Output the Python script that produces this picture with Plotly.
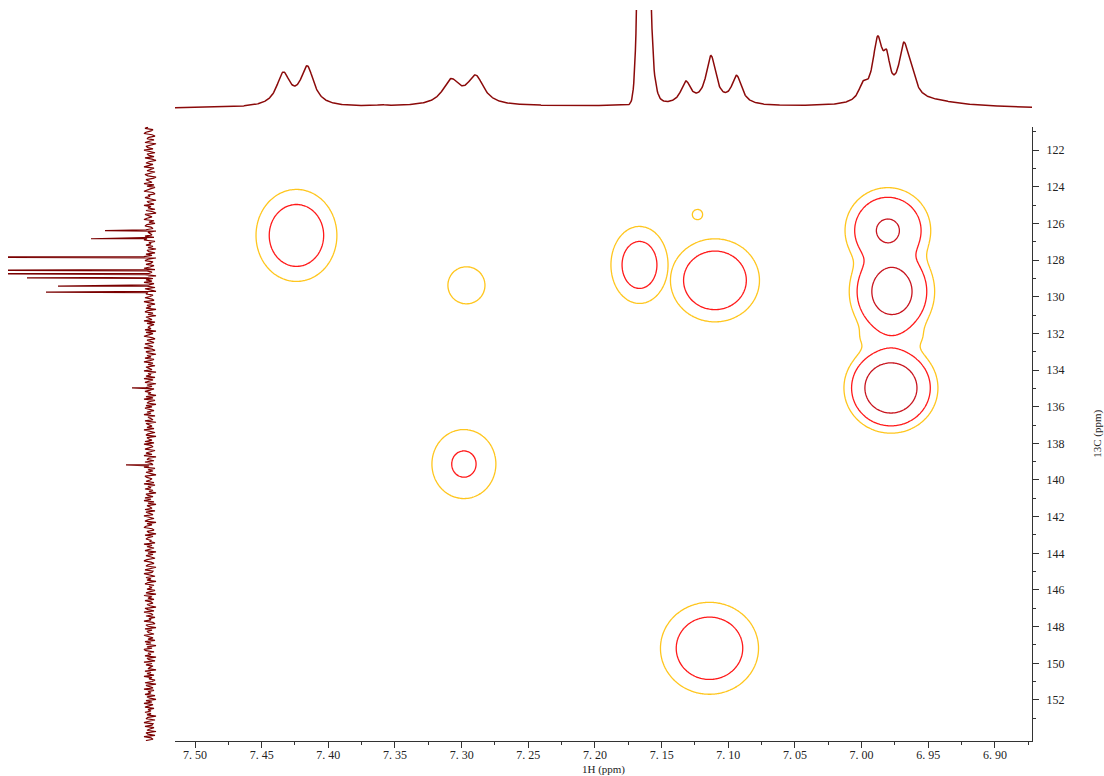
import numpy as np
import plotly.graph_objects as go

# ---------------- 1H projection (top trace) ----------------
H1_LOR_PPM = [7.4338, 7.4158, 7.3600, 7.3080, 7.2895, 7.1550, 7.1318, 7.1130, 7.0937,
              6.9990, 6.9880, 6.9812, 6.9683, 6.9623]
H1_LOR_HEIGHT = [31.7, 38.3, 1.2, 24, 28, 15, 22, 48, 28, 14, 60, 30, 52, 17]
H1_LOR_HWHM = [0.006, 0.006, 0.003, 0.0075, 0.0075, 0.003, 0.0045, 0.0045, 0.0045,
               0.00375, 0.0045, 0.003, 0.0045, 0.00375]
H1_GAUSS_PPM = [7.1633]
H1_GAUSS_HEIGHT = [483]
H1_GAUSS_SIGMA = [0.00305]
H1_BROAD_PPM = [7.20, 6.949]
H1_BROAD_HEIGHT = [3.0, 5.5]
H1_BROAD_HWHM = [0.25, 0.03]
H1_OFFSET = -1.0

# ---------------- 13C projection (left trace) ----------------
C13_PEAK_PPM = [126.40, 126.84, 127.84, 128.56, 128.75, 128.98, 129.43, 129.75, 134.97, 139.17]
C13_PEAK_HEIGHT = [45, 59, 200, 200, 200, 123, 92, 104, 18, 24]
C13_START = 120.75
C13_STEP = 0.07
C13_NOISE = [
    2, 5, -3, -1, 4, 6, -2, -5, 1, 3, -4, 0, 5, -6, -2, 4, 2, -3, 6, -1, -5, 3, 1, -4,
    5, -2, -6, 1, 4, -3, 2, 6, -4, -1, 3, -5, 0, 5, 2, -6, -3, 4, 1, -2, 6, -4, 3, -5,
    -1, 4, 6, -3, -5, 2, 0, 5, -2, -6, 3, 1, -4, 6, -1, 2, -5, 4, -3, -6, 5, 1, -2, 3,
    6, -4, 1, -5, 3, 5, -1, -3, 4, -6, 2, 0, -2, 5, -4, 3, 6, -5, 1, -1, 4, -3, 2, -6,
    3, 1, -5, 4, -2, 6, -6, 2, 5, -3, -1, 4, -4, 0, 6, -5, 3, -2, 1, 5, -6, 2, -3, 4,
    -2, 6, -4, 1, 3, -5, 5, -1, -6, 2, 4, -3, 0, 5, -2, -4, 6, 1, -5, 3, -1, 4, -6, 2,
    5, -3, 2, -6, 4, 1, -2, 6, -5, 3, -4, 0, 2, -1, 5, -6, 4, -3, 1, 6, -2, -5, 3, -1,
    -4, 5, 1, -3, 6, -2, -5, 4, 2, -6, 3, -1, 5, -4, 0, 6, -3, 2, -5, 4, 1, -2, 6, -6,
    2, -1, 4, -5, 6, -3, 1, 5, -6, 3, -2, 4, -4, 0, 5, -1, 2, -6, 4, -3, 6, -5, 1, 3,
    -6, 4, -2, 5, 1, -4, 3, -1, 6, -5, 2, 0, -3, 5, -6, 4, 1, -2, 3, -4, 6, -1, -5, 2,
    4, -6, 3, 1, -2, 5, -4, 6, -1, -3, 2, 5, -5, 0, 4, -2, 6, -6, 1, 3, -4, 5, -1, -3,
    1, 6, -5, 2, -3, 4, -1, -6, 5, 3, -2, 0, 4, -4, 6, -5, 2, -1, 5, -3, 1, -6, 4, 2,
    -3, 5, -1, 6, -4, 2, -6, 3, 0, -2, 5, -5, 4, 1, -3, 6, -1, -4, 2, 5, -6, 3, -2, 4,
    6, -2, -4, 3, 1, -6, 5, -3, 2, 4, -1, 0, -5, 6, -2, 3, -4, 1, 5, -6, 2, -3, 4, -1,
    -5, 3, 6, -1, -4, 2, 4, -6, 1, 5, -3, -2, 6, 0, -5, 4, -1, 3, -6, 2, 5, -4, 1, -2,
    3, -5, 1, 4, -6, 6, -2, 2, -4, 5, -1, -3, 3, 0, -6, 5, 2, -4, 6, -1, -3, 4, -5, 1,
    -1, 6, -3, -5, 4, 2, -6, 5, -2, 3, 1, -4, 6, 0, -3, 2, -5, 5, -1, 4, -6, 3, -2, 6,
    4, -4, 2, -1, 5, -6, 3, 1, -5, 6, -2, 4, -3, 0, 2, -6, 5, -1, 3, -4, 6, -2, 1, -5,
    -2, 5, -6, 4, 1, -3, 6, -4, 2, -1, 5, -5, 3, 0, -6, 4, -2, 6, -3, 1, 5, -4, 2, -1,
    5, -1, 3, -6, 2, 4, -5, 1, 6, -3, -2, 5, -4, 0, 3, -6, 4, 2, -5, 6, -1, -3, 4, -2,
]

# ---------------- HSQC cross peaks ----------------
HSQC_H = [7.4239, 7.2964, 7.2983, 7.1666, 7.1100, 7.1231, 6.9803, 6.97725, 6.9780, 6.9780, 7.1141]
HSQC_C = [126.66, 129.38, 139.13, 128.27, 129.11, 125.52, 126.39, 129.72, 134.98, 132.25, 149.18]
HSQC_SH = [0.01905, 0.01433, 0.01883, 0.0144, 0.0201, 0.0105, 0.01725, 0.01575, 0.01635, 0.027, 0.02295]
HSQC_SC = [1.576, 1.042, 1.478, 1.413, 1.364, 0.764, 1.255, 1.309, 1.145, 0.76, 1.565]
HSQC_AMP = [3.55, 1.6, 2.25, 3.02, 3.97, 1.07, 5.66, 7.9, 10.2, 1.3, 3.61]
HSQC_GROUP = [0, 1, 2, 3, 4, 5, 6, 6, 6, 6, 7]
CONTOUR_LEVELS = [1, 2, 5]
CONTOUR_COLORS = ['#FFC61E', '#FF1A1A', '#C8141E']

# ---------------- axes ----------------
X_RANGE = [7.515, 6.8722]
Y_RANGE = [154.237, 120.729]
X_TICKS = [7.50, 7.45, 7.40, 7.35, 7.30, 7.25, 7.20, 7.15, 7.10, 7.05, 7.00, 6.95, 6.90]
X_TICK_TEXT = ["7. 50", "7. 45", "7. 40", "7. 35", "7. 30", "7. 25", "7. 20", "7. 15",
               "7. 10", "7. 05", "7. 00", "6. 95", "6. 90"]
X_MINOR = [7.475, 7.425, 7.375, 7.325, 7.275, 7.225, 7.175, 7.125, 7.075, 7.025, 6.975, 6.925, 6.875]
Y_TICKS = [122, 124, 126, 128, 130, 132, 134, 136, 138, 140, 142, 144, 146, 148, 150, 152]
Y_MINOR = [121, 123, 125, 127, 129, 131, 133, 135, 137, 139, 141, 143, 145, 147, 149, 151, 153]

W, H = 1104, 776

# ---- build 1H trace ----
h_axis = np.linspace(X_RANGE[0], X_RANGE[1], 1600)
h_spec = np.full_like(h_axis, H1_OFFSET)
for p, a, w in zip(H1_LOR_PPM, H1_LOR_HEIGHT, H1_LOR_HWHM):
    h_spec += a / (1 + ((h_axis - p) / w) ** 2)
for p, a, s in zip(H1_GAUSS_PPM, H1_GAUSS_HEIGHT, H1_GAUSS_SIGMA):
    h_spec += a * np.exp(-0.5 * ((h_axis - p) / s) ** 2)
for p, a, w in zip(H1_BROAD_PPM, H1_BROAD_HEIGHT, H1_BROAD_HWHM):
    h_spec += a / (1 + ((h_axis - p) / w) ** 2)

# ---- build 13C trace ----
c_grid = C13_START + C13_STEP * np.arange(len(C13_NOISE))
c_ppm = np.concatenate([c_grid, np.array(C13_PEAK_PPM, float)])
c_int = np.concatenate([np.array(C13_NOISE, float), np.array(C13_PEAK_HEIGHT, float)])
order = np.argsort(c_ppm)
c_ppm, c_int = c_ppm[order], c_int[order]

# ---- build 2D map ----
gx = np.linspace(X_RANGE[0], X_RANGE[1], 700)
gy = np.linspace(Y_RANGE[1], Y_RANGE[0], 520)
XX, YY = np.meshgrid(gx, gy)
groups = {}
for h, c, sh, sc, a, g in zip(HSQC_H, HSQC_C, HSQC_SH, HSQC_SC, HSQC_AMP, HSQC_GROUP):
    f = a * np.exp(-0.5 * ((XX - h) / sh) ** 2 - 0.5 * ((YY - c) / sc) ** 2)
    groups[g] = groups.get(g, 0) + f ** 2
Z = np.zeros_like(XX)
for g, v in groups.items():
    Z = np.maximum(Z, np.sqrt(v))
Z = Z.astype(np.float32)

fig = go.Figure()
for lvl, col in zip(CONTOUR_LEVELS, CONTOUR_COLORS):
    fig.add_trace(go.Contour(
        x=gx, y=gy, z=Z,
        contours=dict(start=lvl, end=lvl + 0.5, size=10, coloring='lines'),
        colorscale=[[0, col], [1, col]], showscale=False,
        line=dict(width=1.3), hoverinfo='skip', xaxis='x', yaxis='y'))

fig.add_trace(go.Scatter(x=h_axis, y=h_spec, mode='lines',
                         line=dict(color='#8B0A0A', width=1.5),
                         hoverinfo='skip', xaxis='x', yaxis='y2'))
fig.add_trace(go.Scatter(x=c_int, y=c_ppm, mode='lines',
                         line=dict(color='#7A0000', width=1.2),
                         hoverinfo='skip', xaxis='x3', yaxis='y'))

axis_font = dict(family='Liberation Serif', size=12, color='#222')
fig.update_layout(
    width=W, height=H,
    margin=dict(l=0, r=0, t=0, b=0),
    paper_bgcolor='white', plot_bgcolor='white',
    showlegend=False,
    font=axis_font,
    xaxis=dict(
        domain=[175 / W, 1032 / W], range=X_RANGE, anchor='y',
        tickmode='array', tickvals=X_TICKS, ticktext=X_TICK_TEXT,
        ticks='outside', ticklen=6, tickwidth=1, tickcolor='#333',
        ticklabelstandoff=-3,
        showline=True, linecolor='#333', linewidth=1,
        showgrid=False, zeroline=False, tickfont=axis_font,
        minor=dict(tickmode='array', tickvals=X_MINOR, ticks='outside', ticklen=3,
                   tickcolor='#333', showgrid=False),
        title=dict(text='1H (ppm)', standoff=6, font=dict(family='Liberation Serif', size=11, color='#222')),
    ),
    yaxis=dict(
        domain=[(H - 741) / H, (H - 126.7) / H], range=Y_RANGE, anchor='x', side='right',
        tickmode='array', tickvals=Y_TICKS, ticktext=[str(v) for v in Y_TICKS],
        ticks='outside', ticklen=6, tickwidth=1, tickcolor='#333',
        ticklabelstandoff=5,
        showline=True, linecolor='#333', linewidth=1,
        showgrid=False, zeroline=False, tickfont=axis_font,
        minor=dict(tickmode='array', tickvals=Y_MINOR, ticks='outside', ticklen=3,
                   tickcolor='#333', showgrid=False),
        title=dict(text='13C (ppm)', standoff=29, font=dict(family='Liberation Serif', size=11, color='#222')),
    ),
    yaxis2=dict(domain=[(H - 112) / H, (H - 10) / H], range=[-3.7, 98.3], anchor='x', visible=False),
    xaxis3=dict(domain=[8 / W, 160 / W], range=[142, -10], anchor='y', visible=False),
)

fig.write_html("out.html", post_script="document.body.style.margin='0';",
               config={'displayModeBar': False})
